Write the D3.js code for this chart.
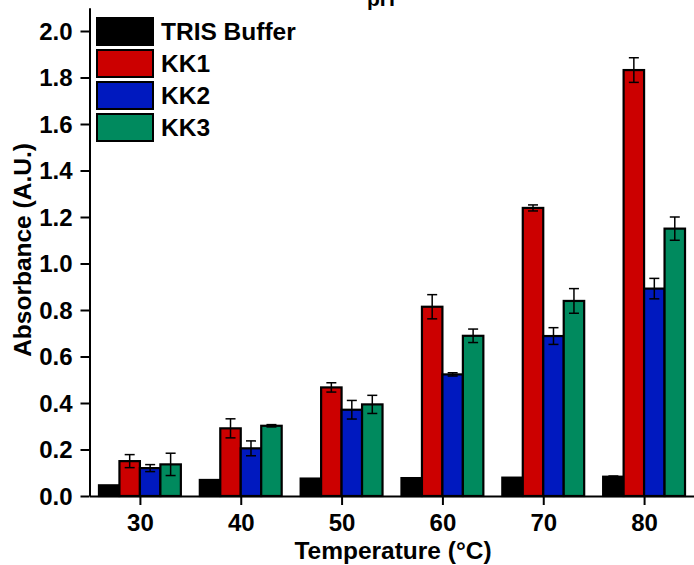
<!DOCTYPE html>
<html><head><meta charset="utf-8">
<script src="https://cdn.jsdelivr.net/npm/d3@7"></script>
<style>body{margin:0;background:#fff}svg{display:block}text{font-family:"Liberation Sans",Arial,sans-serif;font-weight:bold}</style>
</head><body>
<script>
const temperatures = [30, 40, 50, 60, 70, 80];
const seriesNames = ["TRIS Buffer", "KK1", "KK2", "KK3"];
const seriesColors = ["#000000", "#cc0000", "#0019bf", "#008a5e"];
const tris = [0.046, 0.069, 0.075, 0.077, 0.079, 0.083];
const kk1 = [0.150, 0.291, 0.467, 0.814, 1.239, 1.832];
const kk2 = [0.120, 0.205, 0.371, 0.523, 0.688, 0.892];
const kk3 = [0.136, 0.302, 0.394, 0.689, 0.839, 1.150];
const trisErr = [0, 0, 0, 0, 0, 0.003];
const kk1Err = [0.028, 0.041, 0.020, 0.052, 0.013, 0.053];
const kk2Err = [0.015, 0.032, 0.040, 0.007, 0.036, 0.044];
const kk3Err = [0.048, 0.005, 0.039, 0.029, 0.053, 0.050];
const yTicks = [0.0, 0.2, 0.4, 0.6, 0.8, 1.0, 1.2, 1.4, 1.6, 1.8, 2.0];

const values = [tris, kk1, kk2, kk3];
const errors = [trisErr, kk1Err, kk2Err, kk3Err];

const W = 694, H = 565;
const svg = d3.select("body").append("svg").attr("width", W).attr("height", H);

const x = d3.scaleLinear().domain([25, 85]).range([89.5, 694.5]);
const y = d3.scaleLinear().domain([0, 2.1]).range([496, 7.75]);
const barW = 2.03;

const bars = [];
values.forEach((arr, s) => arr.forEach((v, i) => bars.push({s, t: temperatures[i], v, e: errors[s][i]})));

svg.append("g").selectAll("rect").data(bars).enter().append("rect")
  .attr("x", d => x(d.t + (d.s - 2) * barW))
  .attr("width", d => x(d.t + (d.s - 1) * barW) - x(d.t + (d.s - 2) * barW))
  .attr("y", d => y(d.v))
  .attr("height", d => y(0) - y(d.v))
  .attr("fill", d => seriesColors[d.s])
  .attr("stroke", "#000").attr("stroke-width", 2.2);

const eb = svg.append("g").attr("stroke", "#000").attr("stroke-width", 1.5);
bars.filter(d => d.e > 0).forEach(d => {
  const cx = x(d.t + (d.s - 1.5) * barW);
  eb.append("line").attr("x1", cx).attr("x2", cx).attr("y1", y(d.v + d.e)).attr("y2", y(d.v - d.e));
  eb.append("line").attr("x1", cx - 5).attr("x2", cx + 5).attr("y1", y(d.v + d.e)).attr("y2", y(d.v + d.e));
  eb.append("line").attr("x1", cx - 5).attr("x2", cx + 5).attr("y1", y(d.v - d.e)).attr("y2", y(d.v - d.e));
});

// axes
const yAxis = svg.append("g").attr("transform", "translate(89.5,0)")
  .call(d3.axisLeft(y).tickValues(yTicks).tickFormat(d3.format(".1f")).tickSize(9).tickSizeOuter(0));
yAxis.select(".domain").attr("stroke-width", 2);
yAxis.selectAll(".tick line").attr("stroke-width", 2);
yAxis.selectAll(".tick text").attr("font-size", 24).attr("x", -17).attr("dy", "0.35em").attr("fill", "#000");

const xAxis = svg.append("g").attr("transform", "translate(0,496)")
  .call(d3.axisBottom(x).tickValues(temperatures).tickFormat(d3.format("d")).tickSize(9).tickSizeOuter(0));
xAxis.select(".domain").attr("stroke-width", 2);
xAxis.selectAll(".tick line").attr("stroke-width", 2);
xAxis.selectAll(".tick text").attr("font-size", 24).attr("y", 18).attr("dy", "0.71em").attr("fill", "#000");

svg.append("text").attr("x", 393).attr("y", 559).attr("text-anchor", "middle").attr("font-size", 24.5).text("Temperature (°C)");
svg.append("text").attr("transform", "translate(31,250) rotate(-90)").attr("text-anchor", "middle").attr("font-size", 24.5).text("Absorbance (A.U.)");
svg.append("text").attr("x", 381).attr("y", 6).attr("text-anchor", "middle").attr("font-size", 21).text("pH");

// legend
const lg = svg.append("g");
seriesNames.forEach((n, i) => {
  const yy = 18 + i * 32;
  lg.append("rect").attr("x", 97).attr("y", yy).attr("width", 56).attr("height", 27)
    .attr("fill", seriesColors[i]).attr("stroke", "#000").attr("stroke-width", 2);
  lg.append("text").attr("x", 161).attr("y", yy + 13.5).attr("dy", "0.35em").attr("font-size", 24.5).text(n);
});
</script>
</body></html>
